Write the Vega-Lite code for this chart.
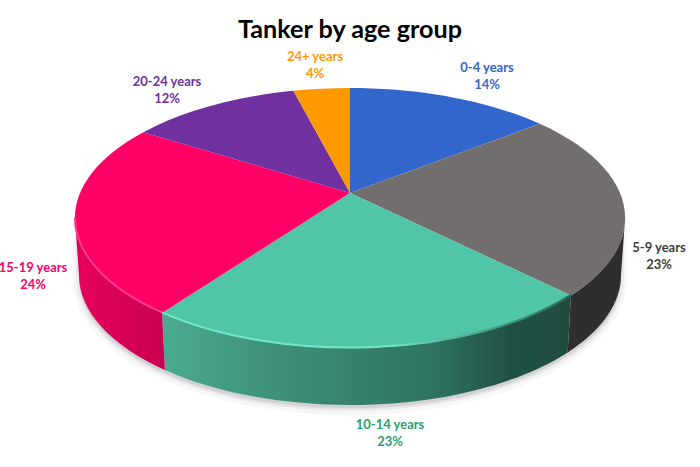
{
"$schema":"https://vega.github.io/schema/vega-lite/v6.json",
"width":700,"height":467,"padding":0,"autosize":{"type":"none"},"background":"white",
"view":{"stroke":null},
"title":{"text":"Tanker by age group","font":"Lato","fontWeight":"bold","fontSize":25.2,"color":"#000000","anchor":"middle","frame":"group","offset":0,"baseline":"alphabetic","dy":63},
"data":{"values":[
{"rank":1,"group":"0-4 years","share":14.4},
{"rank":2,"group":"5-9 years","share":23.1},
{"rank":3,"group":"10-14 years","share":22.5},
{"rank":4,"group":"15-19 years","share":24},
{"rank":5,"group":"20-24 years","share":12},
{"rank":6,"group":"24+ years","share":4}
]},
"transform":[
{"stack":"share","groupby":[],"sort":[{"field":"rank","order":"ascending"}],"as":["s0","s1"]},
{"calculate":"2*PI*datum.s0/100","as":"a0"},
{"calculate":"2*PI*datum.s1/100","as":"a1"},
{"calculate":"round(100*270*sin(datum.a0)/(1+0.1923*cos(datum.a0)))/100","as":"px0"},
{"calculate":"round(-100*125.2*cos(datum.a0)/(1+0.1923*cos(datum.a0)))/100","as":"py0"},
{"calculate":"round(100*270*sin(datum.a1)/(1+0.1923*cos(datum.a1)))/100","as":"px1"},
{"calculate":"round(-100*125.2*cos(datum.a1)/(1+0.1923*cos(datum.a1)))/100","as":"py1"},
{"calculate":"'M0,0L'+datum.px0+','+datum.py0+'A275,130,0,0,1,'+datum.px1+','+datum.py1+'Z'","as":"face"},
{"calculate":"2*PI*max(datum.s0,28.07)/100","as":"b0"},
{"calculate":"2*PI*min(datum.s1,71.93)/100","as":"b1"},
{"calculate":"round(100*270*sin(datum.b0)/(1+0.1923*cos(datum.b0)))/100","as":"wx0"},
{"calculate":"round(-100*125.2*cos(datum.b0)/(1+0.1923*cos(datum.b0)))/100","as":"wy0"},
{"calculate":"round(100*270*sin(datum.b1)/(1+0.1923*cos(datum.b1)))/100","as":"wx1"},
{"calculate":"round(-100*125.2*cos(datum.b1)/(1+0.1923*cos(datum.b1)))/100","as":"wy1"},
{"calculate":"'M'+datum.wx0+','+datum.wy0+'A275,130,0,0,1,'+datum.wx1+','+datum.wy1+'L'+(datum.wx1*0.985)+','+(datum.wy1+57)+'A271,130,0,0,0,'+(datum.wx0*0.985)+','+(datum.wy0+57)+'Z'","as":"wall"},
{"calculate":"'M'+datum.wx0+','+datum.wy0+'A275,130,0,0,1,'+datum.wx1+','+datum.wy1","as":"rim"},
{"calculate":"{'0-4 years':487,'5-9 years':659,'10-14 years':390,'15-19 years':33,'20-24 years':167,'24+ years':315}[datum.group]","as":"lx"},
{"calculate":"{'0-4 years':68,'5-9 years':248,'10-14 years':425,'15-19 years':268,'20-24 years':81.5,'24+ years':57}[datum.group]","as":"ly"},
{"calculate":"datum.group+'\\n'+round(datum.share)+'%'","as":"label"}
],
"resolve":{"scale":{"color":"independent"}},
"layer":[
{"transform":[{"filter":"datum.rank==3"}],
 "mark":{"type":"point","filled":true,"shape":"M-271,25A271,130,0,0,0,271,25L271,82A271,130,0,0,1,-271,82Z","size":4,"fill":"#000000","fillOpacity":0.05,"stroke":"#000000","strokeOpacity":0.03,"strokeWidth":12,"strokeJoin":"round","yOffset":4},
 "encoding":{"x":{"value":350},"y":{"value":193}}},
{"transform":[{"filter":"datum.rank==3"}],
 "mark":{"type":"point","filled":true,"shape":"M-271,25A271,130,0,0,0,271,25L271,82A271,130,0,0,1,-271,82Z","size":4,"fill":"#000000","fillOpacity":0.05,"stroke":"#000000","strokeOpacity":0.05,"strokeWidth":6,"strokeJoin":"round","yOffset":3},
 "encoding":{"x":{"value":350},"y":{"value":193}}},
{"transform":[{"filter":"datum.group=='5-9 years'"}],
 "mark":{"type":"point","filled":true,"size":4,"strokeWidth":0,"fill":"#2f2d2d","opacity":1},
 "encoding":{"x":{"value":350},"y":{"value":193},"shape":{"field":"wall","type":"nominal","scale":null,"legend":null}}},
{"transform":[{"filter":"datum.group=='10-14 years'"}],
 "mark":{"type":"point","filled":true,"size":4,"strokeWidth":0,"opacity":1,"fill":{"gradient":"linear","x1":0,"y1":0,"x2":1,"y2":0,"stops":[{"offset":0,"color":"#4BAA90"},{"offset":0.35,"color":"#3C8A74"},{"offset":0.65,"color":"#2F7561"},{"offset":0.85,"color":"#215145"},{"offset":1,"color":"#1F4C40"}]}},
 "encoding":{"x":{"value":350},"y":{"value":193},"shape":{"field":"wall","type":"nominal","scale":null,"legend":null}}},
{"transform":[{"filter":"datum.group=='15-19 years'"}],
 "mark":{"type":"point","filled":true,"size":4,"strokeWidth":0,"opacity":1,"fill":{"gradient":"linear","x1":0,"y1":0,"x2":1,"y2":0,"stops":[{"offset":0,"color":"#E8005E"},{"offset":1,"color":"#C90050"}]}},
 "encoding":{"x":{"value":350},"y":{"value":193},"shape":{"field":"wall","type":"nominal","scale":null,"legend":null}}},
{"mark":{"type":"point","filled":true,"size":4,"strokeWidth":0,"opacity":1},
 "encoding":{"x":{"value":350},"y":{"value":193},
  "shape":{"field":"face","type":"nominal","scale":null,"legend":null},
  "color":{"field":"group","type":"nominal","legend":null,"scale":{"domain":["0-4 years","5-9 years","10-14 years","15-19 years","20-24 years","24+ years"],"range":["#3366CC","#726E6D","#50C5A8","#FF0066","#7030A0","#FF9900"]}}}},
{"transform":[{"filter":"datum.group=='10-14 years'"}],
 "mark":{"type":"point","filled":false,"size":4,"strokeWidth":2,"opacity":1,"yOffset":-0.5,"fill":null,"stroke":{"gradient":"linear","x1":0,"y1":0,"x2":1,"y2":0,"stops":[{"offset":0,"color":"#6FE8C8"},{"offset":0.55,"color":"#6FE8C8"},{"offset":0.85,"color":"#3A8F78"},{"offset":1,"color":"#2A6A58"}]}},
 "encoding":{"x":{"value":350},"y":{"value":193},"shape":{"field":"rim","type":"nominal","scale":null,"legend":null}}},
{"transform":[{"filter":"datum.group=='15-19 years'"}],
 "mark":{"type":"point","filled":false,"size":4,"strokeWidth":2,"opacity":1,"yOffset":-0.5,"fill":null,"stroke":"#FF3A8C"},
 "encoding":{"x":{"value":350},"y":{"value":193},"shape":{"field":"rim","type":"nominal","scale":null,"legend":null}}},
{"mark":{"type":"text","font":"Lato","fontWeight":"bold","fontSize":13,"lineBreak":"\n","lineHeight":17,"align":"center","baseline":"middle"},
 "encoding":{
  "x":{"field":"lx","type":"quantitative","scale":null,"axis":null},
  "y":{"field":"ly","type":"quantitative","scale":null,"axis":null},
  "text":{"field":"label"},
  "color":{"field":"group","type":"nominal","legend":null,"scale":{"domain":["0-4 years","5-9 years","10-14 years","15-19 years","20-24 years","24+ years"],"range":["#3366CC","#3F3D3D","#2E9E6C","#FF0066","#7030A0","#FF9900"]}}}}
]
}
